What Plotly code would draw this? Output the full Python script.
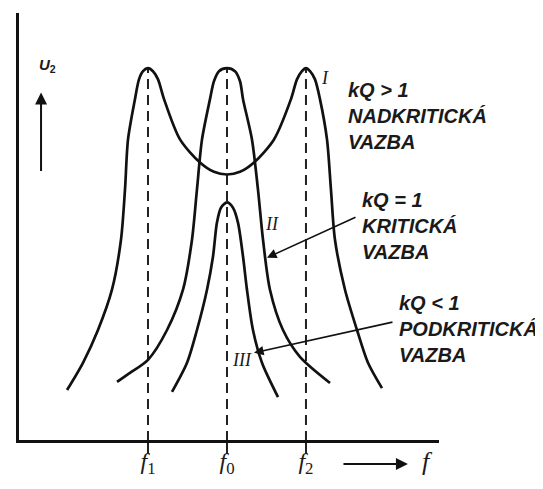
import plotly.graph_objects as go

# ---- data (frequency relative to f0 in units of f0-f1; U2 relative to peak) ----
tick_freqs = [-1.0, 0.0, 1.0]
tick_labels = ["<i>f</i><sub>1</sub>", "<i>f</i><sub>0</sub>", "<i>f</i><sub>2</sub>"]
dash_top = [1.0, 1.0, 1.0]

# curve I : kQ > 1 (overcritical, double hump)
curve1_f = [-2.025, -1.823, -1.633, -1.456, -1.342, -1.291, -1.253, -1.165, -1.114, -1.063, -1.0,
            -0.937, -0.873, -0.797, -0.595, -0.342, -0.165, 0.0, 0.165, 0.342, 0.595, 0.810,
            0.886, 0.949, 1.0, 1.051, 1.114, 1.177, 1.266, 1.316, 1.367, 1.494, 1.646, 1.785, 1.962]
curve1_u = [0.137, 0.210, 0.298, 0.406, 0.540, 0.675, 0.809, 0.917, 0.970, 0.992, 1.0,
            0.992, 0.970, 0.917, 0.809, 0.747, 0.722, 0.715, 0.722, 0.747, 0.809, 0.917,
            0.970, 0.992, 1.0, 0.992, 0.970, 0.917, 0.809, 0.675, 0.540, 0.406, 0.298, 0.210, 0.142]

# curve II : kQ = 1 (critical)
curve2_f = [-1.392, -1.228, -1.0, -0.759, -0.557, -0.443, -0.380, -0.316, -0.215, -0.165, -0.101,
            0.0, 0.101, 0.165, 0.203, 0.316, 0.392, 0.456, 0.544, 0.709, 0.924, 1.304]
curve2_u = [0.159, 0.183, 0.218, 0.298, 0.406, 0.540, 0.675, 0.809, 0.917, 0.965, 0.992,
            1.0, 0.992, 0.965, 0.917, 0.809, 0.675, 0.540, 0.406, 0.298, 0.226, 0.156]

# curve III : kQ < 1 (subcritical)
curve3_f = [-0.696, -0.506, -0.380, -0.253, -0.177, -0.127, -0.076, 0.0, 0.076, 0.139,
            0.203, 0.253, 0.329, 0.443, 0.646]
curve3_u = [0.132, 0.210, 0.298, 0.406, 0.495, 0.586, 0.626, 0.640, 0.626, 0.586,
            0.495, 0.406, 0.298, 0.210, 0.118]

curve_names = ["I", "II", "III"]
label_texts = ["<i>kQ > 1<br>NADKRITICKÁ<br>VAZBA</i>",
               "<i>kQ = 1<br>KRITICKÁ<br>VAZBA</i>",
               "<i>kQ < 1<br>PODKRITICKÁ<br>VAZBA</i>"]

fig = go.Figure()

# vertical dashed lines at f1, f0, f2
dx, dy = [], []
for f, top in zip(tick_freqs, dash_top):
    dx += [f, f, None]
    dy += [0, top, None]
fig.add_trace(go.Scatter(x=dx, y=dy, mode="lines",
                         line=dict(color="#222", width=2, dash="10px,6px"),
                         hoverinfo="skip", showlegend=False))

for fx, uy in [(curve1_f, curve1_u), (curve2_f, curve2_u), (curve3_f, curve3_u)]:
    fig.add_trace(go.Scatter(x=fx, y=uy, mode="lines",
                             line=dict(color="#111", width=2.7, shape="spline", smoothing=0.8),
                             hoverinfo="skip", showlegend=False))

label_font = dict(family="Liberation Sans, Arial, sans-serif", size=20, color="#1a1a1a")
roman_font = dict(family="Liberation Serif, Times New Roman, serif", size=18, color="#1a1a1a")

annotations = [
    # curve numerals
    dict(x=1.24, y=0.975, text="<i>" + curve_names[0] + "</i>", font=roman_font, showarrow=False),
    dict(x=0.57, y=0.582, text="<i>" + curve_names[1] + "</i>", font=roman_font, showarrow=False),
    dict(x=0.19, y=0.218, text="<i>" + curve_names[2] + "</i>", font=roman_font, showarrow=False),
    # regime labels
    dict(x=1.506, y=0.871, text="<b>" + label_texts[0] + "</b>", font=label_font, showarrow=False,
         xanchor="left", yanchor="middle", align="left"),
    dict(x=1.684, y=0.578, text="<b>" + label_texts[1] + "</b>", font=label_font, showarrow=False,
         xanchor="left", yanchor="middle", align="left"),
    dict(x=2.152, y=0.301, text="<b>" + label_texts[2] + "</b>", font=label_font, showarrow=False,
         xanchor="left", yanchor="middle", align="left"),
    # pointer arrows
    dict(x=0.506, y=0.492, ax=1.646, ay=0.602, xref="x", yref="y", axref="x", ayref="y",
         showarrow=True, arrowhead=2, arrowsize=1.2, arrowwidth=1.6, arrowcolor="#111", text=""),
    dict(x=0.342, y=0.237, ax=2.114, ay=0.320, xref="x", yref="y", axref="x", ayref="y",
         showarrow=True, arrowhead=2, arrowsize=1.2, arrowwidth=1.6, arrowcolor="#111", text=""),
    # U2 label and arrow
    dict(x=-2.27, y=1.007, text="<b><i>U</i><sub>2</sub></b>", showarrow=False,
         font=dict(family="Liberation Sans, Arial, sans-serif", size=15, color="#1a1a1a")),
    dict(x=-2.354, y=0.935, ax=-2.354, ay=0.720, xref="x", yref="y", axref="x", ayref="y",
         showarrow=True, arrowhead=2, arrowsize=1.2, arrowwidth=2, arrowcolor="#111", text=""),
    # f arrow and label under the axis
    dict(x=2.291, y=-0.056, xref="x", yref="paper", ax=-66, ay=0, axref="pixel", ayref="pixel",
         showarrow=True, arrowhead=2, arrowsize=1.2, arrowwidth=2, arrowcolor="#111", text=""),
    dict(x=2.544, y=-0.088, xref="x", yref="paper", text="<i>f</i>", showarrow=False,
         font=dict(family="Liberation Serif, Times New Roman, serif", size=26, color="#1a1a1a")),
]

# the page body has an 8px default margin, so the figure is 8px smaller than the window
fig.update_layout(
    width=535, height=481,
    margin=dict(l=11, r=104, t=5, b=49, pad=0),
    paper_bgcolor="white", plot_bgcolor="white",
    annotations=annotations,
    showlegend=False,
)
fig.update_xaxes(range=[-2.633, 2.684], showline=True, linewidth=3, linecolor="#111",
                 showgrid=False, zeroline=False, ticks="outside", ticklen=11, tickwidth=2,
                 tickcolor="#222", tickvals=tick_freqs, ticktext=tick_labels,
                 ticklabelstandoff=-14,
                 tickfont=dict(family="Liberation Serif, Times New Roman, serif", size=24, color="#1a1a1a"),
                 automargin=False, fixedrange=True)
fig.update_yaxes(range=[0.003, 1.148], showline=True, linewidth=3, linecolor="#111",
                 showgrid=False, zeroline=False, showticklabels=False, ticks="",
                 automargin=False, fixedrange=True)

fig.write_html("out.html")
